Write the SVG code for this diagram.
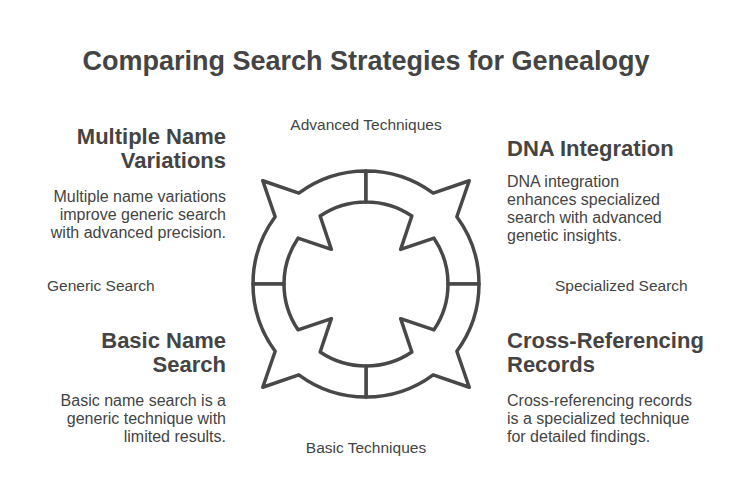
<svg xmlns="http://www.w3.org/2000/svg" width="732" height="480" viewBox="0 0 732 480">
<style>
.q{fill:#fff;stroke:#484848;stroke-width:3.5;stroke-linejoin:round}
text{font-family:"Liberation Sans","Noto Sans",sans-serif;fill:#444}
.t{font-size:27px;font-weight:bold}
.h{font-size:22px;font-weight:bold}
.b{font-size:16px}
.l{font-size:15.5px}
.r{text-anchor:end}
.m{text-anchor:middle}
</style>
<defs>
<path id="quad" d="M253,284 A113,113 0 0 1 275.16,216.79 L262.76,180.76 L298.79,193.16 A113,113 0 0 1 366,171 L366,202 A82,82 0 0 0 320.15,216.02 L331.35,249.35 L298.02,238.15 A82,82 0 0 0 284,284 Z"/>
</defs>
<rect width="732" height="480" fill="#fff"/>
<text class="t m" x="366" y="70">Comparing Search Strategies for Genealogy</text>
<g id="cycle">
<g id="q-tl"><use href="#quad" class="q"/></g>
<g id="q-tr"><use href="#quad" class="q" transform="rotate(90 366 284)"/></g>
<g id="q-br"><use href="#quad" class="q" transform="rotate(180 366 284)"/></g>
<g id="q-bl"><use href="#quad" class="q" transform="rotate(270 366 284)"/></g>
</g>
<g id="axis-labels">
<text class="l m" x="366" y="130">Advanced Techniques</text>
<text class="l m" x="366" y="453">Basic Techniques</text>
<text class="l" x="47" y="291">Generic Search</text>
<text class="l" x="555" y="291">Specialized Search</text>
</g>
<g id="multiple-name-variations">
<text class="h r" x="226" y="144">Multiple Name</text>
<text class="h r" x="226" y="168">Variations</text>
<text class="b r" x="226" y="202">Multiple name variations</text>
<text class="b r" x="226" y="220">improve generic search</text>
<text class="b r" x="226" y="238">with advanced precision.</text>
</g>
<g id="dna-integration">
<text class="h" x="507" y="156">DNA Integration</text>
<text class="b" x="507" y="187">DNA integration</text>
<text class="b" x="507" y="205">enhances specialized</text>
<text class="b" x="507" y="223">search with advanced</text>
<text class="b" x="507" y="241">genetic insights.</text>
</g>
<g id="basic-name-search">
<text class="h r" x="226" y="348">Basic Name</text>
<text class="h r" x="226" y="372">Search</text>
<text class="b r" x="226" y="406">Basic name search is a</text>
<text class="b r" x="226" y="424">generic technique with</text>
<text class="b r" x="226" y="442">limited results.</text>
</g>
<g id="cross-referencing-records">
<text class="h" x="507" y="348">Cross-Referencing</text>
<text class="h" x="507" y="372">Records</text>
<text class="b" x="507" y="406">Cross-referencing records</text>
<text class="b" x="507" y="424">is a specialized technique</text>
<text class="b" x="507" y="442">for detailed findings.</text>
</g>
</svg>
